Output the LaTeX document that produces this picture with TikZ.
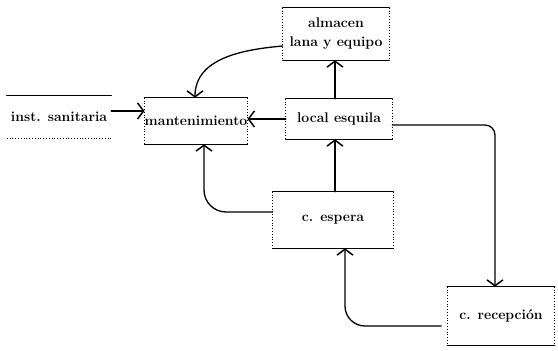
\documentclass[tikz,border=0pt]{standalone}
\usepackage{fontspec}
\usetikzlibrary{arrows.meta}
\tikzset{
  lbl/.style={inner sep=0pt, align=center, font=\fontsize{14}{19}\selectfont\bfseries},
  edge/.style={line width=1.3pt, line cap=round},
  side/.style={line width=0.8pt, dotted},
  flow/.style={line width=1.3pt, line cap=round, -{Straight Barb[length=6pt,width=16pt,line width=1.5pt]}},
}
\begin{document}
\begin{tikzpicture}[x=1pt,y=-1pt]
\useasboundingbox (0,0) rectangle (558,351);
% nodes
\node[lbl, minimum width=104, minimum height=42] (ins) at (59,117) {inst. sanitaria};
\node[lbl, minimum width=98, minimum height=46] (man) at (196,121) {mantenimiento};
\node[lbl, minimum width=106, minimum height=40] (loc) at (339,119) {local esquila};
\node[lbl, minimum width=106, minimum height=52] (alm) at (336,34) {almacen\\lana y equipo};
\node[lbl, minimum width=120, minimum height=56] (esp) at (333,220) {c. espera};
\node[lbl, minimum width=107, minimum height=58] (rec) at (501,316) {c. recepción};
% box lines
\draw[edge] (ins.north west) -- (ins.north east);
\draw[side] (ins.south west) -- (ins.south east);
\foreach \n in {man,loc,alm,esp,rec}{
  \draw[edge] (\n.north west) -- (\n.north east);
  \draw[edge] (\n.south west) -- (\n.south east);
  \draw[side] (\n.north west) -- (\n.south west);
  \draw[side] (\n.north east) -- (\n.south east);
}
% connectors
\draw[flow] ([yshift=6pt]ins.east) -- ([yshift=6pt]ins.east -| man.west);
\draw[flow] (loc.west) -- (loc.west -| man.east);
\draw[flow] ([xshift=-4pt]loc.north) -- ([xshift=-4pt]loc.north |- alm.south);
\draw[flow] ([xshift=2pt]esp.north) -- ([xshift=2pt]esp.north |- loc.south);
\draw[flow] ([yshift=-12pt]alm.west) to[out=185,in=90] ([xshift=-1pt]man.north);
\draw[flow, rounded corners=22pt] ([yshift=8pt]esp.west) -| ([xshift=8pt]man.south);
\draw[flow, rounded corners=10pt] ([yshift=-6pt]loc.east) -| ([xshift=-6pt]rec.north);
\draw[flow, rounded corners=20pt] ([xshift=-6pt,yshift=-10pt]rec.west) -| ([xshift=12pt]esp.south);
\end{tikzpicture}
\end{document}
